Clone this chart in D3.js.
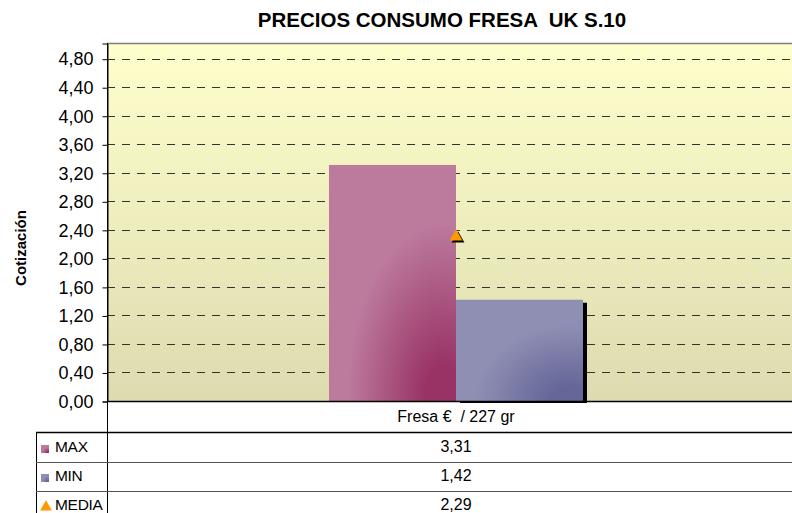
<!DOCTYPE html>
<html>
<head>
<meta charset="utf-8">
<script src="https://cdn.jsdelivr.net/npm/d3@7"></script>
<style>
  html, body { margin: 0; padding: 0; background: #fff; }
  svg { display: block; font-family: "Liberation Sans", Arial, sans-serif; }
  text { white-space: pre; }
</style>
</head>
<body>
<svg id="chart" width="792" height="513"></svg>
<script>
// ---- data ----
const title = "PRECIOS CONSUMO FRESA  UK S.10";
const yTitle = "Cotización";
const categories = ["Fresa €  / 227 gr"];
const seriesNames = ["MAX", "MIN", "MEDIA"];
const maxValues = [3.31];
const minValues = [1.42];
const mediaValues = [2.29];
const yTicks = [0, 0.4, 0.8, 1.2, 1.6, 2.0, 2.4, 2.8, 3.2, 3.6, 4.0, 4.4, 4.8];
const yMax = 5.02;

const svg = d3.select("#chart");
const W = 792, H = 513;
const plot = { left: 107, right: 805, top: 43, bottom: 401 };

const y = d3.scaleLinear().domain([0, yMax]).range([plot.bottom, plot.top]);
const x = d3.scaleBand().domain(categories).range([plot.left, plot.right])
  .paddingInner(0).paddingOuter(0.874);
const xs = d3.scaleBand().domain(["MAX", "MIN"]).range([0, x.bandwidth()]);
const fmt = v => d3.format(".2f")(v).replace(".", ",");

const defs = svg.append("defs");
const bg = defs.append("linearGradient").attr("id", "bg").attr("x1", 0).attr("y1", 0).attr("x2", 0).attr("y2", 1);
bg.append("stop").attr("offset", 0).attr("stop-color", "#FFFFCC");
bg.append("stop").attr("offset", 1).attr("stop-color", "#DDDBAF");

function radial(id, dark, light) {
  const g = defs.append("radialGradient").attr("id", id)
    .attr("cx", 0.9).attr("cy", 1).attr("fx", 0.9).attr("fy", 1).attr("r", 1.0);
  g.append("stop").attr("offset", 0).attr("stop-color", dark);
  g.append("stop").attr("offset", 0.15).attr("stop-color", dark);
  g.append("stop").attr("offset", 0.75).attr("stop-color", light);
  g.append("stop").attr("offset", 1).attr("stop-color", light);
}
radial("gMax", "#993366", "#BC7A9D");
radial("gMin", "#666699", "#8F8FB4");
const fills = { MAX: "url(#gMax)", MIN: "url(#gMin)" };

// plot background
svg.append("rect").attr("x", plot.left).attr("y", plot.top)
  .attr("width", plot.right - plot.left).attr("height", plot.bottom - plot.top)
  .attr("fill", "url(#bg)");
svg.append("line").attr("x1", plot.left).attr("x2", W).attr("y1", plot.top + 0.5).attr("y2", plot.top + 0.5)
  .attr("stroke", "#808080").attr("stroke-width", 1.5);

// gridlines
svg.append("g").selectAll("line").data(yTicks.filter(d => d > 0)).join("line")
  .attr("x1", plot.left).attr("x2", W)
  .attr("y1", d => Math.round(y(d)) + 0.5).attr("y2", d => Math.round(y(d)) + 0.5)
  .attr("stroke", "#333").attr("stroke-width", 1).attr("stroke-dasharray", "8,7");

// bars
const rows = categories.map((c, i) => ({ cat: c, MAX: maxValues[i], MIN: minValues[i], MEDIA: mediaValues[i] }));
const gb = svg.append("g");
rows.forEach(r => {
  gb.append("rect")
    .attr("x", x(r.cat) + xs("MIN") + 4).attr("y", y(r.MIN) + 3)
    .attr("width", xs.bandwidth()).attr("height", plot.bottom - y(r.MIN))
    .attr("fill", "#000");
  ["MAX", "MIN"].forEach(k => {
    gb.append("rect")
      .attr("x", x(r.cat) + xs(k)).attr("y", y(r[k]))
      .attr("width", xs.bandwidth()).attr("height", plot.bottom - y(r[k]))
      .attr("fill", fills[k]);
  });
});

// clean area below plot
svg.append("rect").attr("x", plot.left + 1).attr("y", plot.bottom + 2).attr("width", W).attr("height", H - plot.bottom).attr("fill", "#fff");

// y axis
const yAxis = d3.axisLeft(y).tickValues(yTicks).tickFormat(fmt).tickSize(5).tickPadding(9);
const ga = svg.append("g").attr("transform", `translate(${plot.left + 0.5},0.5)`).call(yAxis);
ga.select(".domain").attr("stroke", "#000");
ga.selectAll(".tick line").attr("stroke", "#000");
ga.selectAll(".tick text").attr("font-size", 18).attr("fill", "#000")
  .attr("font-family", "'Liberation Sans', Arial, sans-serif");

// x axis line
svg.append("line").attr("x1", plot.left).attr("x2", W).attr("y1", plot.bottom + 0.5).attr("y2", plot.bottom + 0.5)
  .attr("stroke", "#000").attr("stroke-width", 1.5);

// media triangle
const tri = d3.symbol().type(d3.symbolTriangle).size(72);
rows.forEach(r => {
  const cx = x(r.cat) + x.bandwidth() / 2;
  svg.append("path").attr("d", tri()).attr("transform", `translate(${cx + 2},${y(r.MEDIA) + 1})`).attr("fill", "#000");
  svg.append("path").attr("d", tri()).attr("transform", `translate(${cx},${y(r.MEDIA) - 1})`).attr("fill", "#FF9900");
});

// title
svg.append("text").attr("x", 442).attr("y", 27).attr("text-anchor", "middle")
  .attr("font-size", 20.5).attr("font-weight", "bold").text(title);

// y title
svg.append("text").attr("transform", "translate(26,248) rotate(-90)").attr("text-anchor", "middle")
  .attr("font-size", 15).attr("font-weight", "bold").text(yTitle);

// data table
const tLeft = 36;
const rowLines = [432, 462, 491];
svg.append("line").attr("x1", plot.left + 0.5).attr("x2", plot.left + 0.5).attr("y1", plot.top).attr("y2", H).attr("stroke", "#000");
svg.append("line").attr("x1", tLeft + 0.5).attr("x2", tLeft + 0.5).attr("y1", rowLines[0]).attr("y2", H).attr("stroke", "#000");
svg.selectAll(".rl").data(rowLines).join("line")
  .attr("x1", tLeft).attr("x2", W).attr("y1", d => d + 0.5).attr("y2", d => d + 0.5)
  .attr("stroke", (d, i) => i === 0 ? "#000" : "#555").attr("stroke-width", (d, i) => i === 0 ? 1.5 : 1.2);

const cx0 = x(categories[0]) + x.bandwidth() / 2;
svg.append("text").attr("x", cx0).attr("y", 422).attr("text-anchor", "middle").attr("font-size", 16).text(categories[0]);
const rowBase = [452, 481, 510];
const vals = [maxValues, minValues, mediaValues];
seriesNames.forEach((s, i) => {
  svg.append("text").attr("x", 55).attr("y", rowBase[i]).attr("font-size", 15.5).attr("letter-spacing", -0.3).text(s);
  svg.append("text").attr("x", cx0).attr("y", rowBase[i]).attr("text-anchor", "middle").attr("font-size", 16).text(fmt(vals[i][0]));
});
svg.append("rect").attr("x", 41).attr("y", 445).attr("width", 8).attr("height", 8).attr("fill", "url(#gMax)");
svg.append("rect").attr("x", 41).attr("y", 474).attr("width", 8).attr("height", 8).attr("fill", "url(#gMin)");
svg.append("path").attr("d", d3.symbol().type(d3.symbolTriangle).size(60)()).attr("transform", "translate(46,507)").attr("fill", "#FF9900");
</script>
</body>
</html>
